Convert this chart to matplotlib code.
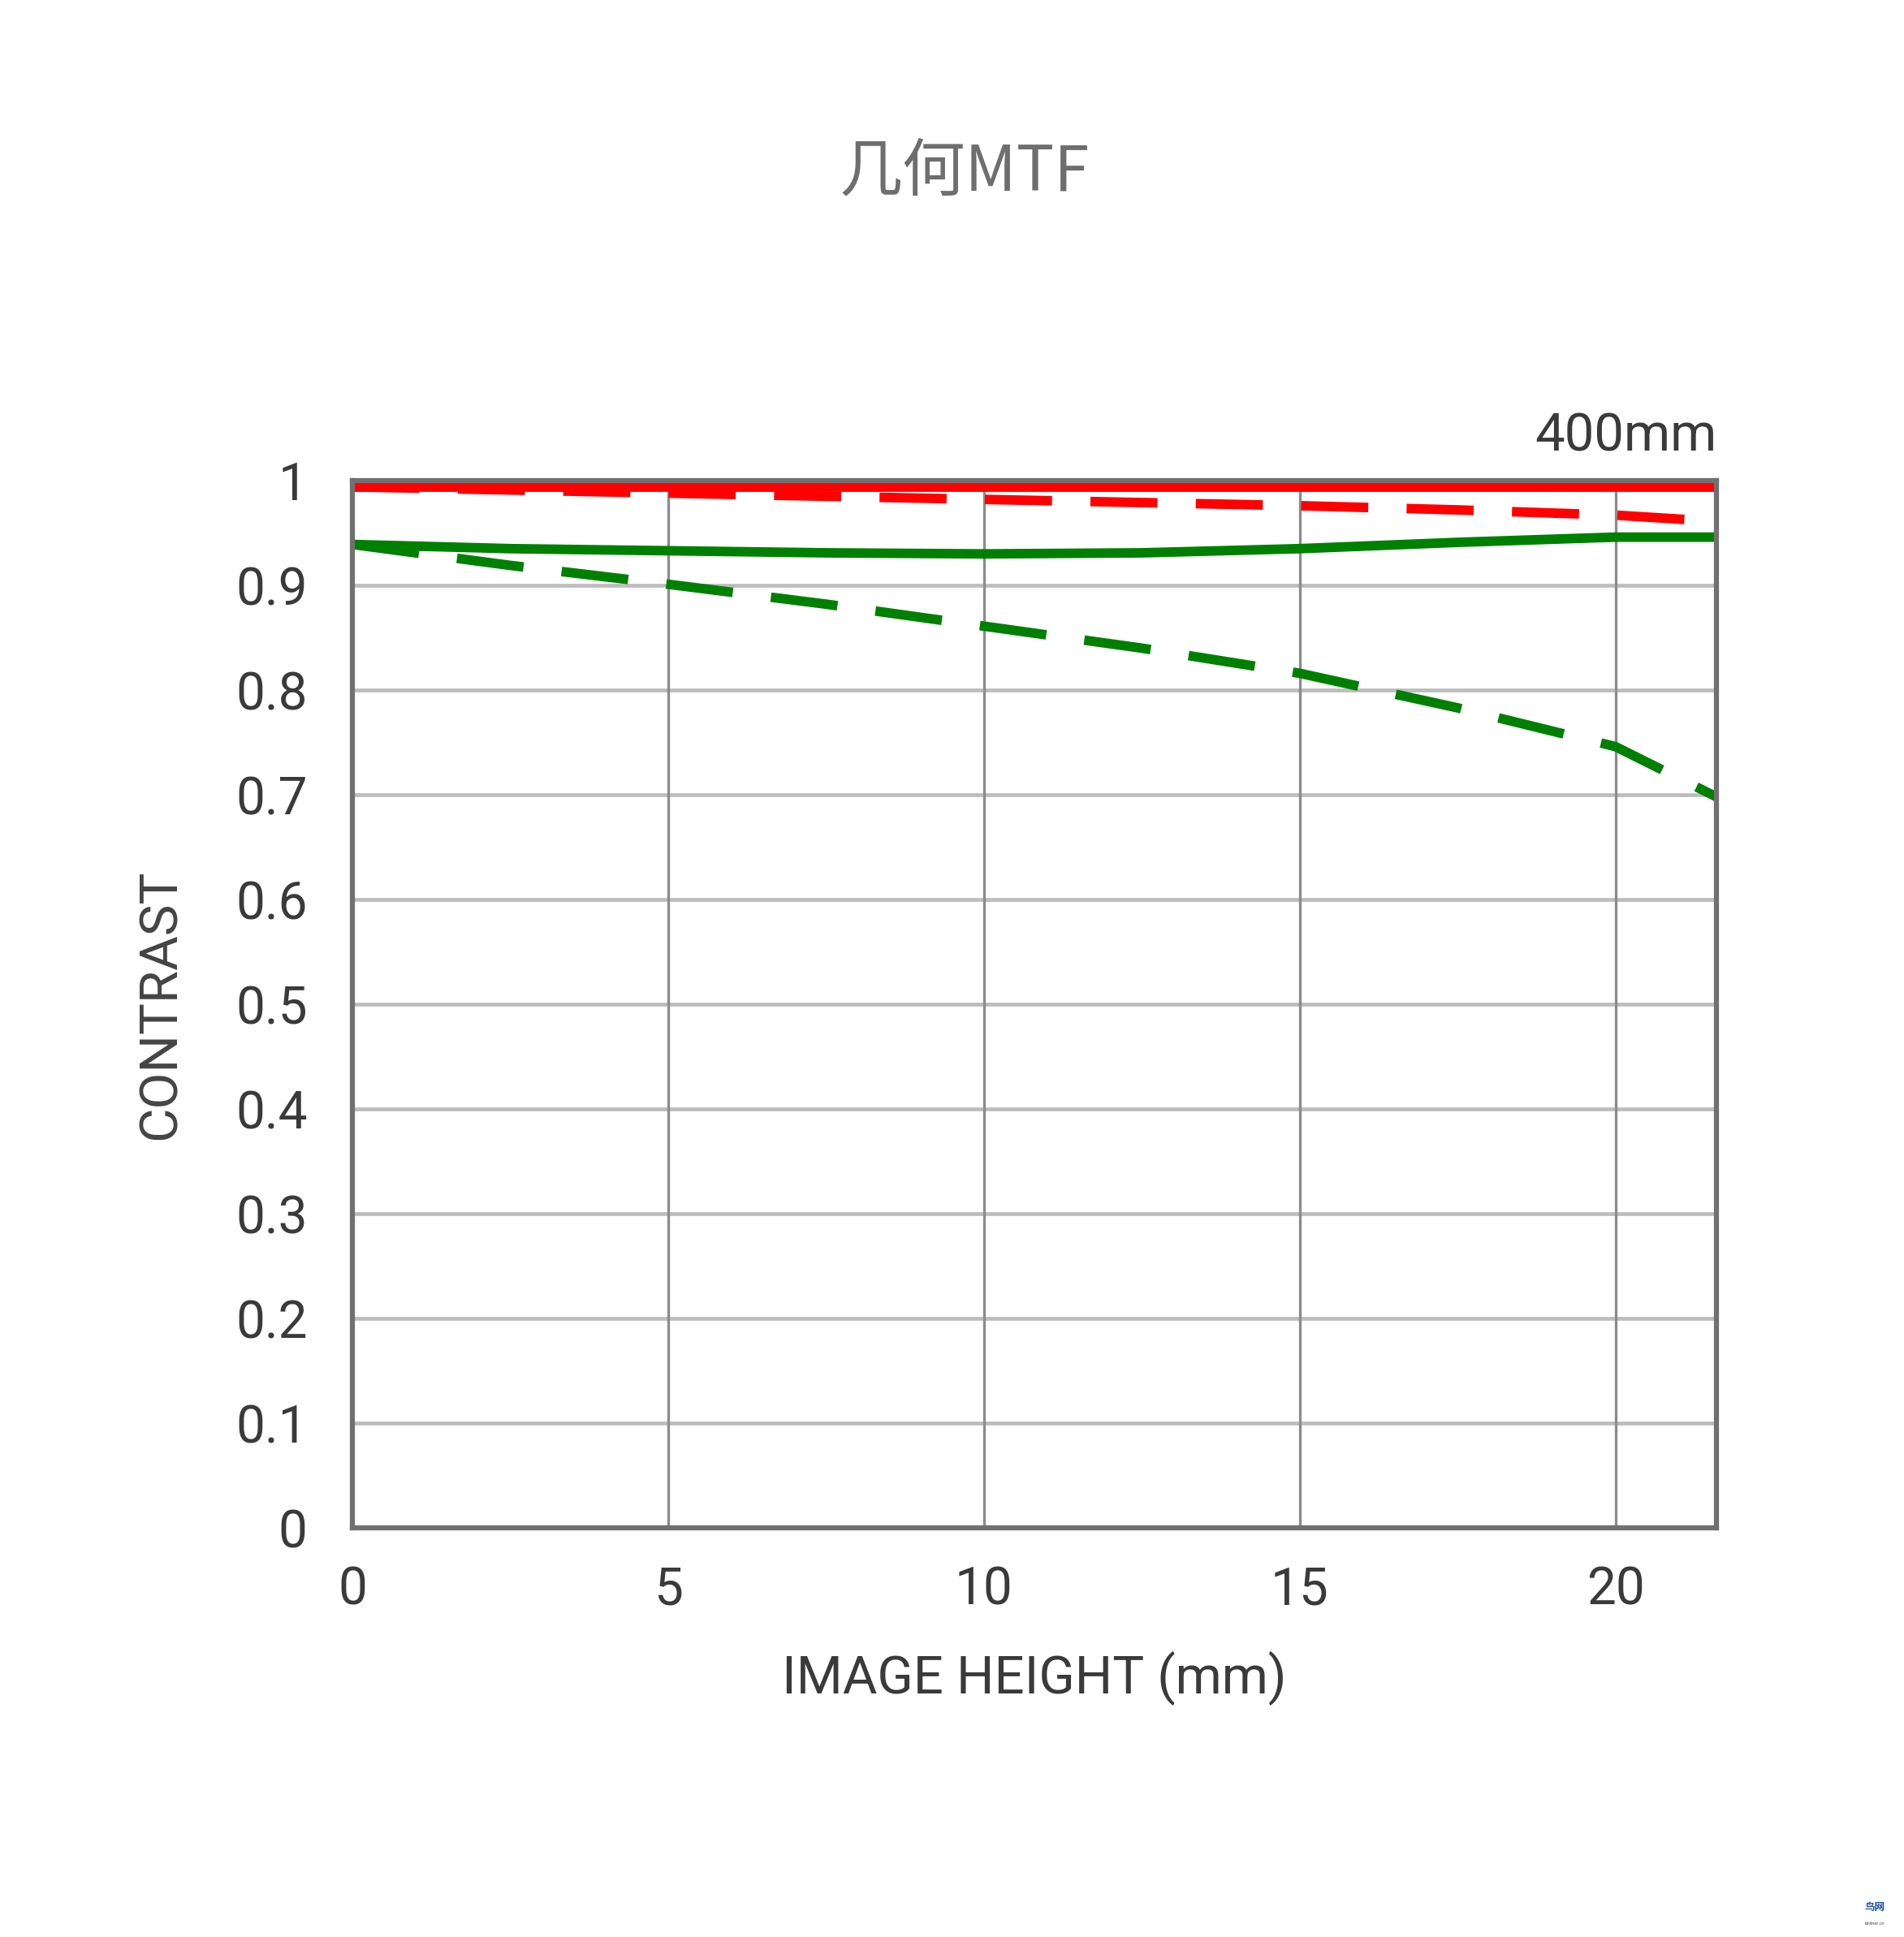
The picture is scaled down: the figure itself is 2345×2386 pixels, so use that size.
import matplotlib
matplotlib.use('Agg')
import matplotlib.pyplot as plt

# ---- data ----
x_pos = [0, 2.5, 5, 7.5, 10, 12.5, 15, 17.5, 20, 21.6]
sag_10 = [0.994, 0.994, 0.994, 0.994, 0.994, 0.994, 0.994, 0.994, 0.994, 0.994]   # red solid
mer_10 = [0.994, 0.991, 0.988, 0.985, 0.982, 0.979, 0.976, 0.972, 0.967, 0.961]   # red dashed
sag_30 = [0.939, 0.935, 0.933, 0.931, 0.930, 0.931, 0.935, 0.941, 0.946, 0.946]   # green solid
mer_30 = [0.939, 0.919, 0.901, 0.882, 0.861, 0.840, 0.816, 0.783, 0.746, 0.698]   # green dashed

y_ticks = [0, 0.1, 0.2, 0.3, 0.4, 0.5, 0.6, 0.7, 0.8, 0.9, 1]
y_labels = ['0', '0.1', '0.2', '0.3', '0.4', '0.5', '0.6', '0.7', '0.8', '0.9', '1']
x_ticks = [0, 5, 10, 15, 20]
x_labels = ['0', '5', '10', '15', '20']

title = '几何MTF'
focal = '400mm'

plt.rcParams['font.family'] = ['Roboto', 'DejaVu Sans']

fig = plt.figure(figsize=(23.45, 23.86), dpi=100)
ax = fig.add_axes([0.1851, 0.2112, 0.7164, 0.5407])

# grid
for yv in y_ticks[1:-1]:
    ax.axhline(yv, color='#bdbdbd', lw=3.4, zorder=1)
for xv in x_ticks[1:]:
    ax.axvline(xv, color='#8c8c8c', lw=2.4, zorder=1)

# curves
ax.plot(x_pos, sag_10, color='#ff0000', lw=8.5, solid_capstyle='butt', zorder=3)
ax.plot(x_pos, mer_10, color='#ff0000', lw=8.5, dashes=(7, 4), zorder=3)
ax.plot(x_pos, sag_30, color='#008000', lw=8.5, solid_capstyle='butt', zorder=3)
ax.plot(x_pos, mer_30, color='#008000', lw=8.5, dashes=(7, 4), zorder=3)

ax.set_xlim(0, 21.6)
ax.set_ylim(0, 1)
ax.set_xticks(x_ticks)
ax.set_xticklabels(x_labels)
ax.set_yticks(y_ticks)
ax.set_yticklabels(y_labels)
ax.tick_params(length=0, labelsize=46, colors='#3a3a3a')
ax.tick_params(axis='y', pad=40)
ax.tick_params(axis='x', pad=33)

for s in ax.spines.values():
    s.set_color('#707070')
    s.set_linewidth(4.5)
    s.set_zorder(4)

ax.set_xlabel('IMAGE HEIGHT (mm)', fontsize=47, color='#3a3a3a', labelpad=32)
ax.set_ylabel('CONTRAST', fontsize=47, color='#444444', labelpad=44)

ax.text(1.0, 1.018, focal, transform=ax.transAxes, ha='right', va='bottom',
        fontsize=47, color='#3a3a3a')

fig.text(0.5065, 0.911, title, ha='center', va='center', fontsize=56,
         color='#6e6e6e', family=['Noto Sans CJK SC', 'DejaVu Sans'], fontweight='light')

# watermark
fig.text(0.9845, 0.0125, '鸟网', ha='center', va='bottom', fontsize=9,
         color='#1a4aa0', family=['Noto Sans CJK SC', 'DejaVu Sans'], fontweight='bold')
fig.text(0.9845, 0.006, 'birdnet.cn', ha='center', va='bottom', fontsize=4, color='#555555')

fig.savefig('out.png', dpi=100, facecolor='white')
